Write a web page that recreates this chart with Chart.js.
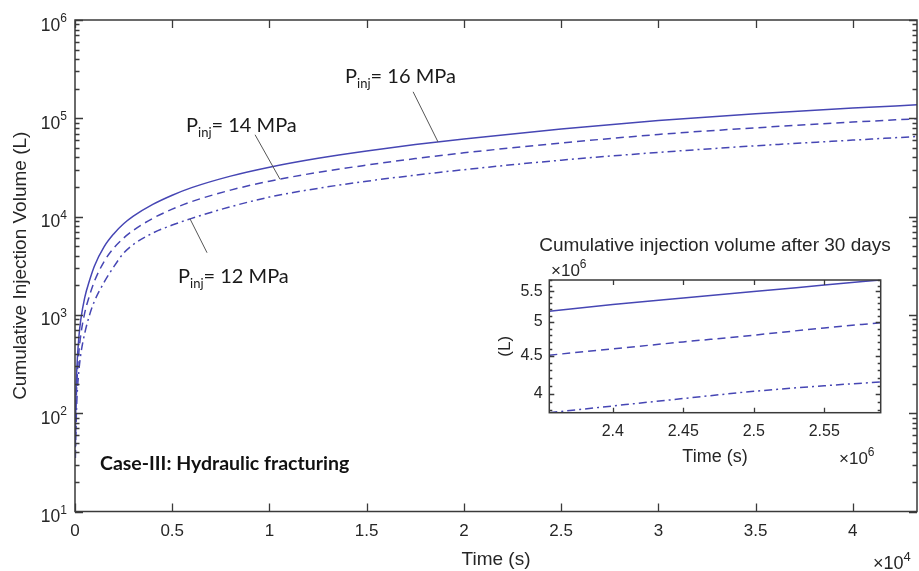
<!DOCTYPE html>
<html><head><meta charset="utf-8">
<script src="https://cdn.jsdelivr.net/npm/chart.js@4.4.1/dist/chart.umd.min.js"></script>
<style>
html,body{margin:0;padding:0;background:#fff;}
#wrap{position:relative;width:919px;height:571px;overflow:hidden;}
#main{position:absolute;left:0;top:0;}
#inset{position:absolute;left:470px;top:230px;}
</style></head><body>
<div id="wrap"><canvas id="main" width="919" height="571"></canvas><canvas id="inset" width="435" height="245"></canvas></div>
<script>
// ---------- main chart data (time in s, volume in L) ----------
const time = [20, 50, 100, 200, 300, 500, 750, 1000, 1500, 2000, 2500, 3000, 4000, 5000, 6000, 8000, 10000, 12500, 15000, 17500, 20000, 25000, 30000, 35000, 40000, 43300];
const vol16 = [55, 150, 300, 600, 900, 1500, 2250, 3150, 4950, 6700, 8450, 10100, 13300, 16500, 19700, 25800, 31800, 39200, 46500, 54000, 61500, 78000, 95000, 111000, 127000, 137000];
const vol14 = [45, 110, 210, 420, 630, 1050, 1580, 2200, 3500, 4800, 6050, 7250, 9600, 11900, 14200, 18600, 22900, 28200, 33400, 38900, 44500, 56000, 68500, 80000, 91500, 99000];
const vol12 = [35, 70, 140, 270, 400, 650, 1000, 1380, 2150, 3100, 4250, 5200, 6800, 8200, 9600, 12600, 15800, 19400, 22900, 26400, 30000, 37500, 45000, 52500, 60000, 65300];
const seriesNames = ['P_inj = 16 MPa', 'P_inj = 14 MPa', 'P_inj = 12 MPa'];
const xTickValues = [0, 5000, 10000, 15000, 20000, 25000, 30000, 35000, 40000];
const xTickLabels = ['0', '0.5', '1', '1.5', '2', '2.5', '3', '3.5', '4'];
const yMajorValues = [10, 100, 1000, 10000, 100000, 1000000];
const yTickExponents = ['1', '2', '3', '4', '5', '6'];

// ---------- inset data (time in s, volume in L) ----------
const insetTime = [2355000, 2400000, 2450000, 2500000, 2550000, 2590000];
const insetVol16 = [5.17e6, 5.28e6, 5.39e6, 5.50e6, 5.61e6, 5.70e6];
const insetVol14 = [4.51e6, 4.60e6, 4.70e6, 4.80e6, 4.91e6, 4.99e6];
const insetVol12 = [3.77e6, 3.85e6, 3.94e6, 4.03e6, 4.10e6, 4.15e6];
const insetXTickValues = [2400000, 2450000, 2500000, 2550000];
const insetXTickLabels = ['2.4', '2.45', '2.5', '2.55'];
const insetYMajorValues = [4000000, 4500000, 5000000, 5500000];
const insetYTickLabels = ['4', '4.5', '5', '5.5'];
const insetYMinorValues = [3.8e6, 3.9e6, 4.0e6, 4.1e6, 4.2e6, 4.3e6, 4.4e6, 4.5e6, 4.6e6, 4.7e6, 4.8e6, 4.9e6, 5.0e6, 5.1e6, 5.2e6, 5.3e6, 5.4e6, 5.5e6, 5.6e6, 5.7e6];

// ---------- styles ----------
const LINE = '#4646b4';
const AXIS = '#3a3a3a';
const TXT = '#262626';
const FONT = "'Liberation Sans', Arial, sans-serif";
const ANNFONT = "Lato, 'Open Sans', sans-serif";

function yMinorAll() {
  const out = [];
  for (let k = 1; k < 6; k++) for (let n = 1; n < 10; n++) out.push(n * Math.pow(10, k));
  out.push(1e6);
  return out;
}

function lerpLog(ts, vs, t) {
  for (let i = 1; i < ts.length; i++) {
    if (t <= ts[i]) {
      const f = (t - ts[i-1]) / (ts[i] - ts[i-1]);
      return Math.pow(10, Math.log10(vs[i-1]) + f * (Math.log10(vs[i]) - Math.log10(vs[i-1])));
    }
  }
  return vs[vs.length-1];
}

function frameTicksPlugin(id, majorLen, minorLen, isMajorY) {
  return {
    id,
    afterDraw(chart) {
      const {ctx, chartArea: a, scales: {x, y}} = chart;
      ctx.save();
      ctx.strokeStyle = AXIS;
      ctx.lineWidth = 1.3;
      ctx.beginPath();
      x.ticks.forEach(t => {
        const p = Math.round(x.getPixelForValue(t.value)) + 0.5;
        ctx.moveTo(p, a.bottom); ctx.lineTo(p, a.bottom - majorLen);
        ctx.moveTo(p, a.top); ctx.lineTo(p, a.top + majorLen);
      });
      y.ticks.forEach(t => {
        const p = Math.round(y.getPixelForValue(t.value)) + 0.5;
        const L = isMajorY(t.value) ? majorLen : minorLen;
        ctx.moveTo(a.left, p); ctx.lineTo(a.left + L, p);
        ctx.moveTo(a.right, p); ctx.lineTo(a.right - L, p);
      });
      ctx.stroke();
      ctx.lineWidth = 1.5;
      ctx.strokeRect(a.left, a.top, a.right - a.left, a.bottom - a.top);
      ctx.restore();
    }
  };
}

function drawTimes10(ctx, x, y, exp, size) {
  ctx.save();
  ctx.fillStyle = TXT;
  ctx.textAlign = 'left';
  ctx.textBaseline = 'alphabetic';
  ctx.font = size + 'px ' + FONT;
  ctx.fillText('\u00D710', x, y);
  const w = ctx.measureText('\u00D710').width;
  ctx.font = Math.round(size * 0.7) + 'px ' + FONT;
  ctx.fillText(exp, x + w, y - size * 0.45);
  ctx.restore();
}

function drawPinj(ctx, x, y, rest) {
  ctx.fillStyle = '#1a1a1a';
  ctx.textAlign = 'left';
  ctx.textBaseline = 'alphabetic';
  ctx.font = '20px ' + ANNFONT;
  ctx.fillText('P', x, y);
  let w = ctx.measureText('P').width;
  ctx.font = '13px ' + ANNFONT;
  ctx.fillText('inj', x + w, y + 5);
  w += ctx.measureText('inj').width;
  ctx.font = '20px ' + ANNFONT;
  ctx.fillText('= ' + rest, x + w, y);
}

// annotation anchors in data coordinates (t, V)
const annotations = [
  {text: '16 MPa', lx: 13889, ly: 2.30e5, sx: 17387, sy: 1.86e5, tx: 18670, series: vol16},
  {text: '14 MPa', lx: 5710, ly: 7.3e4, sx: 9259, sy: 6.8e4, tx: 10545, series: vol14},
  {text: '12 MPa', lx: 5298, ly: 2120, sx: 6790, sy: 4290, tx: 5916, series: vol12}
];

const mainAnn = {
  id: 'mainAnn',
  afterDraw(chart) {
    const {ctx, chartArea: area, scales: {x, y}} = chart;
    ctx.save();
    // y tick labels 10^n
    ctx.fillStyle = TXT;
    ctx.textBaseline = 'alphabetic';
    yMajorValues.forEach((v, i) => {
      const p = y.getPixelForValue(v);
      const right = area.left - 8;
      ctx.font = '12px ' + FONT;
      const we = ctx.measureText(yTickExponents[i]).width;
      ctx.textAlign = 'left';
      ctx.fillText(yTickExponents[i], right - we, p + 2);
      ctx.font = '17.5px ' + FONT;
      ctx.textAlign = 'right';
      ctx.fillText('10', right - we, p + 10.5);
    });
    ctx.textAlign = 'left';
    ctx.strokeStyle = '#555';
    ctx.lineWidth = 1;
    annotations.forEach(a => {
      const ex = x.getPixelForValue(a.tx), ey = y.getPixelForValue(lerpLog(time, a.series, a.tx));
      ctx.beginPath();
      ctx.moveTo(x.getPixelForValue(a.sx), y.getPixelForValue(a.sy));
      ctx.lineTo(ex, ey);
      ctx.stroke();
      drawPinj(ctx, x.getPixelForValue(a.lx), y.getPixelForValue(a.ly), a.text);
    });
    ctx.font = 'bold 19.5px ' + ANNFONT;
    ctx.fillStyle = '#111';
    ctx.fillText('Case-III: Hydraulic fracturing', x.getPixelForValue(1286), y.getPixelForValue(26.5));
    ctx.restore();
    drawTimes10(ctx, 873, 569, '4', 18);
  }
};

const lineDefaults = {pointRadius: 0, borderWidth: 1.5, borderColor: LINE, fill: false, cubicInterpolationMode: 'monotone'};

new Chart(document.getElementById('main'), {
  type: 'line',
  data: {
    datasets: [
      Object.assign({label: seriesNames[0], data: time.map((t, i) => ({x: t, y: vol16[i]}))}, lineDefaults),
      Object.assign({label: seriesNames[1], data: time.map((t, i) => ({x: t, y: vol14[i]})), borderDash: [8, 5]}, lineDefaults),
      Object.assign({label: seriesNames[2], data: time.map((t, i) => ({x: t, y: vol12[i]})), borderDash: [8, 4, 2, 4]}, lineDefaults)
    ]
  },
  options: {
    responsive: false, animation: false, devicePixelRatio: 1,
    layout: {padding: {top: 20, right: 2, left: 0, bottom: 0}},
    plugins: {legend: {display: false}, tooltip: {enabled: false}},
    scales: {
      x: {
        type: 'linear', min: 0, max: 43300,
        grid: {display: false, drawTicks: false}, border: {display: false},
        ticks: {autoSkip: false, maxRotation: 0, padding: 10, color: TXT, font: {family: FONT, size: 17},
          callback: v => { const i = xTickValues.indexOf(v); return i >= 0 ? xTickLabels[i] : ''; }},
        afterBuildTicks: s => { s.ticks = xTickValues.map(v => ({value: v})); },
        afterFit: s => { s.height = 59.5; },
        title: {display: true, text: 'Time (s)', color: TXT, font: {family: FONT, size: 19}, padding: {top: 0, bottom: 0}}
      },
      y: {
        type: 'logarithmic', min: 10, max: 1e6,
        grid: {display: false, drawTicks: false}, border: {display: false},
        ticks: {display: false, autoSkip: false},
        afterBuildTicks: s => { s.ticks = yMinorAll().map(v => ({value: v})); },
        afterFit: s => { s.width = 75; },
        title: {display: true, text: 'Cumulative Injection Volume (L)', color: TXT, font: {family: FONT, size: 19}, padding: {top: 9, bottom: 0}}
      }
    }
  },
  plugins: [frameTicksPlugin('mainFrame', 8, 4.5, v => yMajorValues.some(m => Math.abs(m - v) < 1e-6 * m)), mainAnn]
});

const insetAnn = {
  id: 'insetAnn',
  afterDraw(chart) {
    const {ctx, chartArea: a} = chart;
    ctx.save();
    ctx.fillStyle = TXT;
    ctx.font = '19px ' + FONT;
    ctx.textAlign = 'center';
    ctx.textBaseline = 'alphabetic';
    ctx.fillText('Cumulative injection volume after 30 days', (a.left + a.right) / 2, 21);
    ctx.restore();
    drawTimes10(ctx, 81, 46, '6', 17);
    drawTimes10(ctx, 369, 234, '6', 17);
  }
};

new Chart(document.getElementById('inset'), {
  type: 'line',
  data: {
    datasets: [
      Object.assign({label: seriesNames[0], data: insetTime.map((t, i) => ({x: t, y: insetVol16[i]}))}, lineDefaults),
      Object.assign({label: seriesNames[1], data: insetTime.map((t, i) => ({x: t, y: insetVol14[i]})), borderDash: [8, 5]}, lineDefaults),
      Object.assign({label: seriesNames[2], data: insetTime.map((t, i) => ({x: t, y: insetVol12[i]})), borderDash: [8, 4, 2, 4]}, lineDefaults)
    ]
  },
  options: {
    responsive: false, animation: false, devicePixelRatio: 1,
    layout: {padding: {top: 50, right: 24.3, left: 0, bottom: 0}},
    plugins: {legend: {display: false}, tooltip: {enabled: false}},
    scales: {
      x: {
        type: 'linear', min: 2355000, max: 2590000,
        grid: {display: false, drawTicks: false}, border: {display: false},
        ticks: {autoSkip: false, maxRotation: 0, padding: 9, color: TXT, font: {family: FONT, size: 16},
          callback: v => { const i = insetXTickValues.indexOf(v); return i >= 0 ? insetXTickLabels[i] : ''; }},
        afterBuildTicks: s => { s.ticks = insetXTickValues.map(v => ({value: v})); },
        afterFit: s => { s.height = 62.3; },
        title: {display: true, text: 'Time (s)', color: TXT, font: {family: FONT, size: 18}, padding: {top: 0, bottom: 7}}
      },
      y: {
        type: 'logarithmic', min: 3.77e6, max: 5.70e6,
        grid: {display: false, drawTicks: false}, border: {display: false},
        ticks: {autoSkip: false, padding: 6.6, color: TXT, font: {family: FONT, size: 16},
          callback: v => { const i = insetYMajorValues.findIndex(m => Math.abs(m - v) < 1); return i >= 0 ? insetYTickLabels[i] : ''; }},
        afterBuildTicks: s => { s.ticks = insetYMinorValues.map(v => ({value: v})); },
        afterFit: s => { s.width = 79.3; },
        title: {display: true, text: '(L)', color: TXT, font: {family: FONT, size: 17}, padding: {top: 25, bottom: 0}}
      }
    }
  },
  plugins: [frameTicksPlugin('insetFrame', 5, 3, v => insetYMajorValues.some(m => Math.abs(m - v) < 1)), insetAnn]
});
</script>
</body></html>
